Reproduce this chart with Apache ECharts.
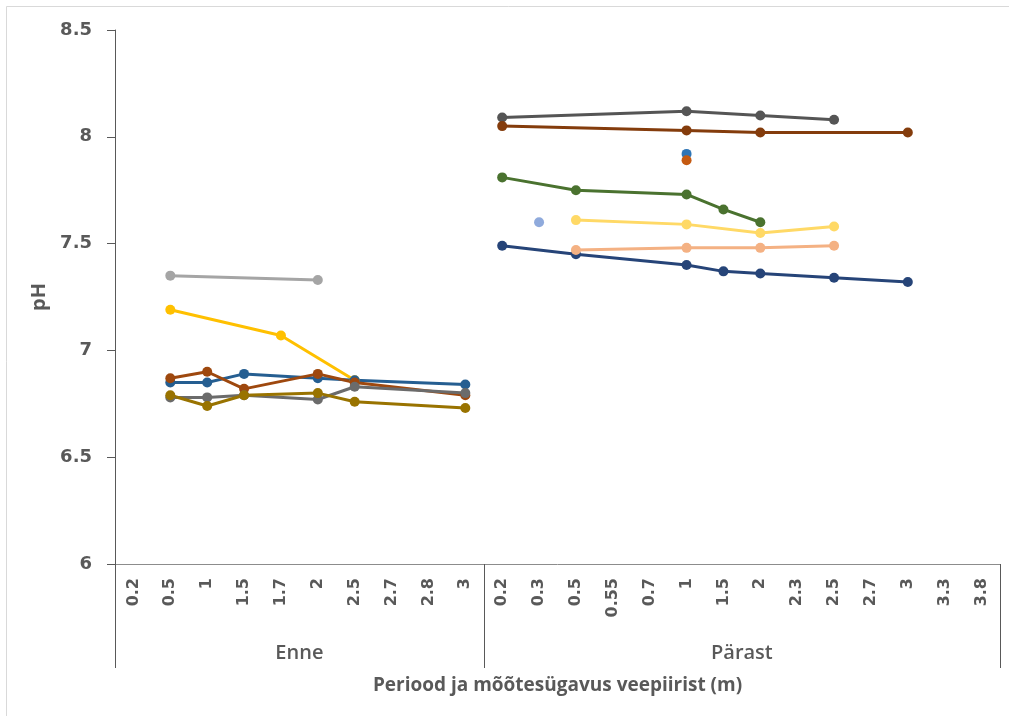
<!DOCTYPE html>
<html>
<head>
<meta charset="utf-8">
<script src="https://cdn.jsdelivr.net/npm/echarts@6/dist/echarts.min.js"></script>
<style>
html,body{margin:0;padding:0;background:#fff;}
#chart{width:1009px;height:716px;}
</style>
</head>
<body>
<div id="chart"></div>
<script>
// Category levels
const groupNames = ['Enne', 'Pärast'];
const enneDepths = ['0.2','0.5','1','1.5','1.7','2','2.5','2.7','2.8','3'];
const parastDepths = ['0.2','0.3','0.5','0.55','0.7','1','1.5','2','2.3','2.5','2.7','3','3.3','3.8'];
const yTicks = [6, 6.5, 7, 7.5, 8, 8.5];

// Enne series (aligned to enneDepths)
const enneLightGrey = [null,7.35,null,null,null,7.33,null,null,null,null];
const enneYellow    = [null,7.19,null,null,7.07,null,6.86,null,null,null];
const enneBlue      = [null,6.85,6.85,6.89,null,6.87,6.86,null,null,6.84];
const enneBrown     = [null,6.87,6.90,6.82,null,6.89,6.85,null,null,6.79];
const enneGrey      = [null,6.78,6.78,6.79,null,6.77,6.83,null,null,6.80];
const enneOlive     = [null,6.79,6.74,6.79,null,6.80,6.76,null,null,6.73];

// Pärast series (aligned to parastDepths)
const parGrey       = [8.09,null,null,null,null,8.12,null,8.10,null,8.08,null,null,null,null];
const parBrown      = [8.05,null,null,null,null,8.03,null,8.02,null,null,null,8.02,null,null];
const parBluePt     = [null,null,null,null,null,7.92,null,null,null,null,null,null,null,null];
const parOrangePt   = [null,null,null,null,null,7.89,null,null,null,null,null,null,null,null];
const parGreen      = [7.81,null,7.75,null,null,7.73,7.66,7.60,null,null,null,null,null,null];
const parLightBlue  = [null,7.60,null,null,null,null,null,null,null,null,null,null,null,null];
const parLightYellow= [null,null,7.61,null,null,7.59,null,7.55,null,7.58,null,null,null,null];
const parNavy       = [7.49,null,7.45,null,null,7.40,7.37,7.36,null,7.34,null,7.32,null,null];
const parPeach      = [null,null,7.47,null,null,7.48,null,7.48,null,7.49,null,null,null,null];

const categories = enneDepths.map(d => 'Enne|' + d).concat(parastDepths.map(d => 'Pärast|' + d));
const nE = enneDepths.length, nP = parastDepths.length;
const padE = v => v.concat(new Array(nP).fill(null));
const padP = v => new Array(nE).fill(null).concat(v);

const defs = [
  {name:'E1', data: padE(enneYellow), color:'#FFC000'},
  {name:'E2', data: padE(enneLightGrey), color:'#A5A5A5'},
  {name:'E3', data: padE(enneBlue), color:'#255E91'},
  {name:'E4', data: padE(enneBrown), color:'#9E480E'},
  {name:'E5', data: padE(enneGrey), color:'#6B6B6B'},
  {name:'E6', data: padE(enneOlive), color:'#997300'},
  {name:'P1', data: padP(parGrey), color:'#555555'},
  {name:'P2', data: padP(parBrown), color:'#843C0C'},
  {name:'P3', data: padP(parBluePt), color:'#2E75B6'},
  {name:'P4', data: padP(parOrangePt), color:'#C55A11'},
  {name:'P5', data: padP(parGreen), color:'#4A722F'},
  {name:'P6', data: padP(parLightBlue), color:'#8FAADC'},
  {name:'P7', data: padP(parLightYellow), color:'#FFD966'},
  {name:'P8', data: padP(parNavy), color:'#264478'},
  {name:'P9', data: padP(parPeach), color:'#F4B183'}
];

const textColor = '#595959';
const chart = echarts.init(document.getElementById('chart'));
chart.setOption({
  animation: false,
  backgroundColor: '#ffffff',
  graphic: [{
    type: 'rect', silent: true,
    shape: {x: 6.5, y: 6.5, width: 1100, height: 800},
    style: {fill: 'none', stroke: '#d9d9d9', lineWidth: 1}
  }],
  grid: {left: 115, right: 9, top: 30, bottom: 152, containLabel: false},
  xAxis: [{
    type: 'category',
    data: categories,
    boundaryGap: true,
    axisLine: {show: true, lineStyle: {color: '#8c8c8c', width: 1}},
    axisTick: {show: false},
    splitLine: {show: false},
    axisLabel: {
      interval: 0, rotate: 90, margin: 14,
      color: textColor, fontSize: 16, fontWeight: 'bold', fontFamily: 'DejaVu Sans',
      formatter: v => v.split('|')[1]
    }
  }, {
    type: 'value',
    min: 0, max: nE + nP,
    position: 'bottom',
    axisLine: {show: false},
    splitLine: {show: false},
    axisTick: {show: true, customValues: [0, nE, nE + nP], length: 104, lineStyle: {color: '#595959', width: 1}},
    axisLabel: {
      customValues: [nE / 2, nE + nP / 2], margin: 79,
      color: textColor, fontSize: 20, fontWeight: 600, fontFamily: 'Open Sans',
      formatter: v => (v < nE ? groupNames[0] : groupNames[1])
    },
    name: 'Periood ja mõõtesügavus veepiirist (m)',
    nameLocation: 'middle', nameGap: 112,
    nameTextStyle: {color: textColor, fontSize: 19, fontWeight: 'bold', fontFamily: 'Open Sans'}
  }],
  yAxis: {
    type: 'value', min: 6, max: 8.5, interval: 0.5,
    axisLine: {show: true, lineStyle: {color: '#595959', width: 1}},
    axisTick: {show: true, length: 8, lineStyle: {color: '#595959'}},
    splitLine: {show: false},
    axisLabel: {
      margin: 23, color: textColor, fontSize: 18, fontWeight: 'bold', fontFamily: 'DejaVu Sans',
      formatter: v => String(yTicks.find(t => Math.abs(t - v) < 1e-9) ?? v)
    },
    name: 'pH', nameLocation: 'middle', nameGap: 55,
    nameTextStyle: {color: textColor, fontSize: 20, fontWeight: 'bold', fontFamily: 'Open Sans'}
  },
  series: defs.map(d => ({
    name: d.name, type: 'line', xAxisIndex: 0, data: d.data,
    connectNulls: true, showAllSymbol: true, symbol: 'circle', symbolSize: 10,
    smooth: false,
    lineStyle: {color: d.color, width: 3},
    itemStyle: {color: d.color},
    emphasis: {disabled: true}
  }))
});
</script>
</body>
</html>
